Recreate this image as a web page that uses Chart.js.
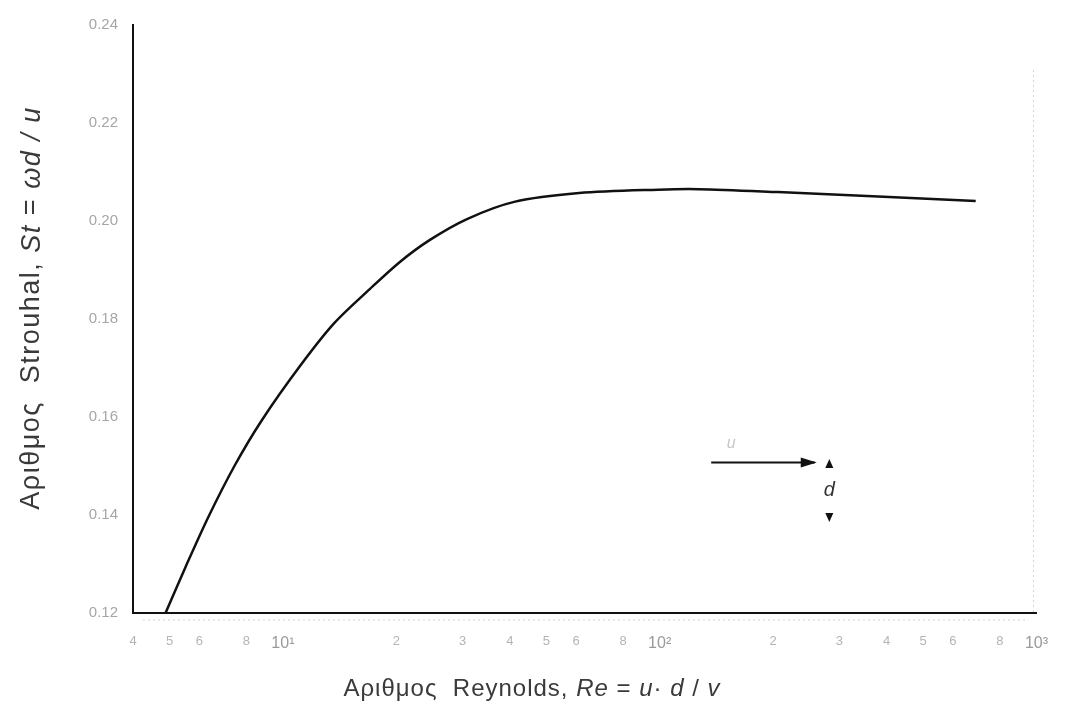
<!DOCTYPE html>
<html>
<head>
<meta charset="utf-8">
<script src="https://cdn.jsdelivr.net/npm/chart.js@4"></script>
<style>
  html,body{margin:0;padding:0;background:#fff;}
  #wrap{width:1069px;height:710px;}
</style>
</head>
<body>
<div id="wrap"><canvas id="stChart" width="1069" height="710"></canvas></div>
<script>
// Reynolds number / Strouhal number
var reVals = [4.88, 5.53, 6.34, 7.46, 8.8, 11.1, 13.7, 17.0, 20.4, 24.5, 30.8, 41.1, 61.1, 99, 127, 206, 380, 690];
var stVals = [0.1200, 0.1296, 0.1396, 0.1502, 0.1594, 0.1704, 0.1792, 0.1861, 0.1916, 0.1961, 0.2004, 0.2039, 0.2057, 0.2064, 0.2065, 0.2059, 0.2050, 0.2041];

var xTickVals = [4, 5, 6, 8, 10, 20, 30, 40, 50, 60, 80, 100, 200, 300, 400, 500, 600, 800, 1000];
var xTickLabels = ["4", "5", "6", "8", "10\u00b9", "2", "3", "4", "5", "6", "8", "10\u00b2", "2", "3", "4", "5", "6", "8", "10\u00b3"];
var yTickVals = [0.12, 0.14, 0.16, 0.18, 0.20, 0.22, 0.24];

// little inset sketch: flow arrow (u) and cylinder diameter (d)
var flowArrow = {re0: 137, re1: 258, st: 0.1507};
var diamArrow = {re: 282, st0: 0.151, st1: 0.139};

var pts = [];
for (var i = 0; i < reVals.length; i++) {
  pts.push({x: reVals[i], y: stVals[i]});
}

function drawParts(ctx, x, y, parts, align) {
  var total = 0;
  parts.forEach(function(p){ ctx.font = p[1]; total += ctx.measureText(p[0]).width; });
  var cx = align === "center" ? x - total / 2 : x;
  parts.forEach(function(p){
    ctx.font = p[1];
    ctx.fillText(p[0], cx, y);
    cx += ctx.measureText(p[0]).width;
  });
}

var extras = {
  id: "extras",
  afterDatasetsDraw: function(chart) {
    var ctx = chart.ctx, a = chart.chartArea;
    var xs = chart.scales.x, ys = chart.scales.y;
    var fam = "'Liberation Sans', Arial, sans-serif";
    ctx.save();

    // faint speckled lines (right frame + under the axis)
    ctx.strokeStyle = "#d4d4d4";
    ctx.lineWidth = 1;
    ctx.setLineDash([2, 3]);
    ctx.beginPath();
    ctx.moveTo(a.right - 3, a.top + 45);
    ctx.lineTo(a.right - 3, a.bottom);
    ctx.stroke();
    ctx.beginPath();
    ctx.moveTo(a.left + 10, a.bottom + 7);
    ctx.lineTo(a.right - 8, a.bottom + 7);
    ctx.stroke();
    ctx.setLineDash([]);

    // axis titles
    ctx.fillStyle = "#3a3a3a";
    ctx.textBaseline = "middle";
    ctx.letterSpacing = "1px";
    var xr = "24px " + fam, xi = "italic 24px " + fam;
    drawParts(ctx, 532, 689, [
      ["Αριθμος  Reynolds, ", xr], ["Re", xi], [" = ", xr], ["u", xi], ["\u00b7 ", xr], ["d", xi], [" / ", xr], ["v", xi]
    ], "center");

    ctx.save();
    ctx.translate(32, 308);
    ctx.rotate(-Math.PI / 2);
    ctx.letterSpacing = "1.5px";
    var yr = "27px " + fam, yi = "italic 27px " + fam;
    drawParts(ctx, 0, 0, [
      ["Αριθμος  Strouhal, ", yr], ["St", yi], [" = ", yr], ["ωd / u", yi]
    ], "center");
    ctx.restore();
    ctx.letterSpacing = "0px";

    // flow arrow
    var fx0 = xs.getPixelForValue(flowArrow.re0), fx1 = xs.getPixelForValue(flowArrow.re1);
    var fy = ys.getPixelForValue(flowArrow.st);
    ctx.strokeStyle = "#111";
    ctx.fillStyle = "#111";
    ctx.lineWidth = 2;
    ctx.beginPath();
    ctx.moveTo(fx0, fy);
    ctx.lineTo(fx1, fy);
    ctx.stroke();
    ctx.beginPath();
    ctx.moveTo(fx1 + 2, fy);
    ctx.lineTo(fx1 - 14, fy - 5);
    ctx.lineTo(fx1 - 14, fy + 5);
    ctx.closePath();
    ctx.fill();
    ctx.fillStyle = "#c8c8c8";
    ctx.font = "italic 16px " + fam;
    ctx.textAlign = "center";
    ctx.fillText("u", fx0 + 20, fy - 19);

    // diameter marks
    var dx = xs.getPixelForValue(diamArrow.re);
    var dy0 = ys.getPixelForValue(diamArrow.st0), dy1 = ys.getPixelForValue(diamArrow.st1);
    ctx.fillStyle = "#111";
    ctx.beginPath();
    ctx.moveTo(dx, dy0 - 2);
    ctx.lineTo(dx - 4, dy0 + 7);
    ctx.lineTo(dx + 4, dy0 + 7);
    ctx.closePath();
    ctx.fill();
    ctx.beginPath();
    ctx.moveTo(dx, dy1 + 2);
    ctx.lineTo(dx - 4, dy1 - 7);
    ctx.lineTo(dx + 4, dy1 - 7);
    ctx.closePath();
    ctx.fill();
    ctx.fillStyle = "#333";
    ctx.font = "italic 20px " + fam;
    ctx.fillText("d", dx, (dy0 + dy1) / 2);

    ctx.restore();
  }
};

var chart = new Chart(document.getElementById("stChart").getContext("2d"), {
  type: "scatter",
  data: {
    datasets: [{
      label: "St",
      data: pts,
      showLine: true,
      borderColor: "#111",
      borderWidth: 2.5,
      pointRadius: 0,
      tension: 0.3,
      fill: false
    }]
  },
  options: {
    responsive: false,
    animation: false,
    layout: {padding: {top: 25, right: 24, left: 0, bottom: 0}},
    plugins: {legend: {display: false}, tooltip: {enabled: false}},
    scales: {
      x: {
        type: "logarithmic",
        min: 4,
        max: 1000,
        afterBuildTicks: function(s){ s.ticks = xTickVals.map(function(v){ return {value: v}; }); },
        afterFit: function(s){ s.height = 97; },
        grid: {display: false, drawTicks: false},
        border: {display: true, color: "#111", width: 2},
        ticks: {
          autoSkip: false,
          maxRotation: 0,
          padding: 21,
          color: function(c){ return xTickLabels[c.index].indexOf("10") === 0 ? "#9a9a9a" : "#b4b4b4"; },
          font: function(c){
            return {size: xTickLabels[c.index].indexOf("10") === 0 ? 16 : 13, family: "'Liberation Sans', Arial, sans-serif"};
          },
          callback: function(v, idx){ return xTickLabels[idx]; }
        }
      },
      y: {
        min: 0.12,
        max: 0.24,
        afterBuildTicks: function(s){ s.ticks = yTickVals.map(function(v){ return {value: v}; }); },
        afterFit: function(s){ s.width = 133; },
        grid: {display: false, drawTicks: false},
        border: {display: true, color: "#111", width: 2},
        ticks: {
          padding: 15,
          color: "#a6a6a6",
          font: {size: 15, family: "'Liberation Sans', Arial, sans-serif"},
          callback: function(v){ return Number(v).toFixed(2); }
        }
      }
    }
  },
  plugins: [extras]
});
</script>
</body>
</html>
